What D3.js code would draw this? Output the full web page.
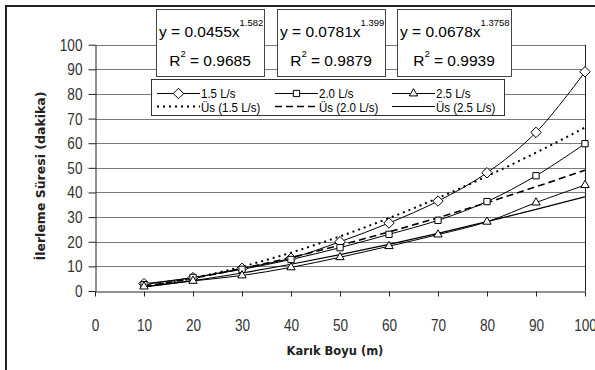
<!DOCTYPE html>
<html><head><meta charset="utf-8">
<script src="https://cdn.jsdelivr.net/npm/d3@7"></script>
<style>
body{margin:0;background:#fff;}
svg{display:block;}
</style></head>
<body><svg id="c" width="595" height="370"></svg>
<script>
const xValues = [10,20,30,40,50,60,70,80,90,100];
const s15 = [3.0,5.4,9.2,13.3,20.0,27.6,36.5,48.0,64.4,89.0];
const s20 = [2.6,5.5,8.8,12.8,17.6,23.0,28.7,36.3,46.8,59.8];
const s25 = [1.8,4.1,6.3,9.6,13.7,18.2,22.9,28.1,35.9,43.0];
const fit15 = [1.74,5.20,9.88,15.58,22.18,29.59,37.76,46.63,56.17,66.37];
const fit20 = [1.96,5.16,9.10,13.61,18.60,24.00,29.77,35.90,42.32,49.07];
const fit25 = [1.61,4.18,7.30,10.85,14.75,18.95,23.43,28.15,33.11,38.28];
const xTicks = [0,10,20,30,40,50,60,70,80,90,100];
const yTicks = [0,10,20,30,40,50,60,70,80,90,100];
const seriesNames = ["1.5 L/s","2.0 L/s","2.5 L/s"];
const fitNames = ["Üs (1.5 L/s)","Üs (2.0 L/s)","Üs (2.5 L/s)"];
const eqMain = ["y = 0.0455x","y = 0.0781x","y = 0.0678x"];
const eqExp = ["1.582","1.399","1.3758"];
const eqR2 = ["0.9685","0.9879","0.9939"];

const svg = d3.select("#c");
const L=95,R=585,T=44.7,B=291;
const x = d3.scaleLinear().domain([0,100]).range([L,R]);
const y = d3.scaleLinear().domain([0,100]).range([B,T]);
const sans = '"Liberation Sans",Arial,sans-serif';

function squeeze(sel, f){
  sel.each(function(){
    const w=this.getComputedTextLength();
    d3.select(this).attr("textLength",w*f).attr("lengthAdjust","spacingAndGlyphs");
  });
}

// outer frame
svg.append("rect").attr("x",6).attr("y",6).attr("width",620).attr("height",420)
  .attr("fill","#fff").attr("stroke","#222").attr("stroke-width",2);

// gridlines
svg.append("g").selectAll("line").data(yTicks.filter(d=>d>0)).join("line")
  .attr("x1",L).attr("x2",R).attr("y1",d=>Math.round(y(d))+0.5).attr("y2",d=>Math.round(y(d))+0.5)
  .attr("stroke","#7a7a7a").attr("stroke-width",1);
svg.append("line").attr("x1",R+0.5).attr("x2",R+0.5).attr("y1",y(100)).attr("y2",B)
  .attr("stroke","#222");

// axes
const xAxis = svg.append("g").attr("transform",`translate(0,${Math.round(B)+0.5})`)
  .call(d3.axisBottom(x).tickValues(xTicks).tickSize(5).tickPadding(22).tickSizeOuter(0));
const yAxis = svg.append("g").attr("transform",`translate(${L+0.5},0)`)
  .call(d3.axisLeft(y).tickValues(yTicks).tickSize(7).tickPadding(6).tickSizeOuter(0));
[xAxis,yAxis].forEach(a=>{
  a.selectAll("path,line").attr("stroke","#222");
  a.selectAll("text").attr("font-family",sans).attr("font-size",17).attr("fill","#333");
  squeeze(a.selectAll("text"),0.8);
});

// series
const lineGen = d3.line().x((d,i)=>x(xValues[i])).y(d=>y(d)).curve(d3.curveCatmullRom.alpha(0.5));
const fitGen = d3.line().x((d,i)=>x(xValues[i])).y(d=>y(d)).curve(d3.curveMonotoneX);
const fits = [fit15,fit20,fit25];
const dashes = ["2,4","7,4",null];
const fitWidths = [2,1.6,1.2];
fits.forEach((f,k)=>{
  svg.append("path").attr("d",fitGen(f)).attr("fill","none").attr("stroke","#000")
    .attr("stroke-width",fitWidths[k]).attr("stroke-dasharray",dashes[k]);
});
const series = [s15,s20,s25];
series.forEach(s=>{
  svg.append("path").attr("d",lineGen(s)).attr("fill","none").attr("stroke","#000").attr("stroke-width",1);
});
const sym = [d3.symbolDiamond2, d3.symbolSquare2, d3.symbolTriangle2];
const symSize = [70,50,50];
function marker(g,k,cx,cy){
  g.append("path").attr("d",d3.symbol(sym[k],symSize[k])())
   .attr("transform",`translate(${cx},${cy})`)
   .attr("fill","#fff").attr("stroke","#000").attr("stroke-width",1);
}
series.forEach((s,k)=>{
  const g=svg.append("g");
  s.forEach((v,i)=>marker(g,k,x(xValues[i]),y(v)));
});

// equation boxes
const boxX=[156,277,397], boxW=[108,108,114];
eqMain.forEach((t,i)=>{
  const g=svg.append("g");
  g.append("rect").attr("x",boxX[i]+0.5).attr("y",9.5).attr("width",boxW[i]).attr("height",67)
    .attr("fill","#fff").attr("stroke","#444");
  const tx=g.append("text").attr("x",boxX[i]+3).attr("y",37)
    .attr("font-family",sans).attr("font-size",15.5).attr("fill","#000");
  tx.append("tspan").text(t);
  tx.append("tspan").attr("dy",-11).attr("font-size",9.5).text(eqExp[i]);
  const cx=boxX[i]+boxW[i]/2;
  const r=g.append("text").attr("x",cx).attr("y",66).attr("text-anchor","middle")
    .attr("font-family",sans).attr("font-size",15.5).attr("fill","#000");
  r.append("tspan").text("R");
  r.append("tspan").attr("dy",-9).attr("font-size",9.5).text("2");
  r.append("tspan").attr("dy",9).text(" = "+eqR2[i]);
});

// legend
const lg=svg.append("g");
lg.append("rect").attr("x",151.5).attr("y",79.5).attr("width",353).attr("height",36)
  .attr("fill","#fff").attr("stroke","#333");
const colX=[157,275,392];
seriesNames.forEach((n,k)=>{
  const yy=93.5;
  lg.append("line").attr("x1",colX[k]).attr("x2",colX[k]+43).attr("y1",yy).attr("y2",yy).attr("stroke","#000");
  marker(lg,k,colX[k]+21.5,yy);
  const t=lg.append("text").attr("x",colX[k]+44).attr("y",98).attr("font-family",sans).attr("font-size",13.5).text(n);
  squeeze(t,0.85);
});
fitNames.forEach((n,k)=>{
  const yy=106.5;
  lg.append("line").attr("x1",colX[k]).attr("x2",colX[k]+43).attr("y1",yy).attr("y2",yy).attr("stroke","#000")
    .attr("stroke-width",fitWidths[k]).attr("stroke-dasharray",dashes[k]);
  const t=lg.append("text").attr("x",colX[k]+44).attr("y",111.5).attr("font-family",sans).attr("font-size",13.5).text(n);
  squeeze(t,0.85);
});

// axis titles
svg.append("text").attr("transform","translate(45,176) rotate(-90)").attr("text-anchor","middle")
  .attr("font-family","DejaVu Sans,sans-serif").attr("font-weight","bold").attr("font-size",12.5).attr("fill","#222")
  .text("İlerleme Süresi (dakika)");
svg.append("text").attr("x",335).attr("y",355).attr("text-anchor","middle")
  .attr("font-family","DejaVu Sans,sans-serif").attr("font-weight","bold").attr("font-size",11.5).attr("fill","#222")
  .text("Karık Boyu (m)");
</script></body></html>
